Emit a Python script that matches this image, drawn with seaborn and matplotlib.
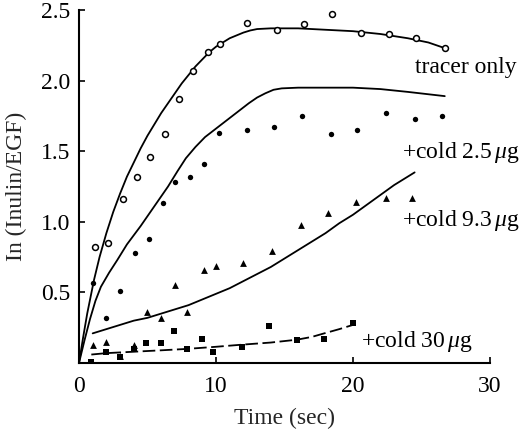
import numpy as np
import pandas as pd
import matplotlib
matplotlib.use("Agg")
import matplotlib.pyplot as plt
import seaborn as sns

# ---- data ----
tracer_x = [1.2, 2.1, 3.2, 4.2, 5.2, 6.25, 7.3, 8.3, 9.45, 10.3, 12.3, 14.45, 16.4, 18.5, 20.6, 22.6, 24.6, 26.7]
tracer_y = [0.82, 0.85, 1.16, 1.32, 1.46, 1.62, 1.87, 2.07, 2.20, 2.26, 2.41, 2.36, 2.40, 2.47, 2.34, 2.33, 2.30, 2.23]
tracer_fit_x = [0, 0.3, 0.6, 1.1, 1.5, 2.0, 2.5, 3.0, 3.5, 4.0, 4.5, 5.0, 5.5, 6.0, 6.5, 7.0, 7.5, 8.0,
                8.5, 9.0, 9.5, 10.0, 10.5, 11.0, 11.5, 12.0, 12.5, 13.0, 14.0, 15.0, 16.0, 18.0, 20.0,
                22.0, 24.0, 25.5, 26.7]
tracer_fit_y = [0, 0.18, 0.35, 0.59, 0.75, 0.92, 1.07, 1.20, 1.32, 1.42, 1.52, 1.61, 1.69, 1.77, 1.84,
                1.91, 1.98, 2.04, 2.10, 2.15, 2.20, 2.24, 2.27, 2.30, 2.32, 2.34, 2.355, 2.365, 2.37,
                2.37, 2.37, 2.36, 2.35, 2.33, 2.30, 2.27, 2.23]

c25_x = [1.0, 2.0, 3.0, 4.1, 5.1, 6.1, 7.0, 8.1, 9.1, 10.2, 12.3, 14.2, 16.3, 18.4, 20.3, 22.4, 24.5, 26.5]
c25_y = [0.57, 0.32, 0.51, 0.78, 0.88, 1.13, 1.28, 1.32, 1.41, 1.63, 1.65, 1.67, 1.75, 1.62, 1.65, 1.77, 1.73, 1.75]
c25_fit_x = [0, 0.4, 0.8, 1.2, 1.6, 2.2, 2.8, 3.5, 4.5, 5.5, 6.5, 7.2, 7.8, 8.5, 9.2, 10.0, 10.8,
             11.6, 12.4, 13.0, 13.6, 14.2, 14.8, 16.0, 18.0, 20.0, 22.0, 24.0, 26.7]
c25_fit_y = [0, 0.16, 0.31, 0.44, 0.54, 0.64, 0.73, 0.84, 0.97, 1.11, 1.25, 1.36, 1.45, 1.53, 1.60,
             1.66, 1.72, 1.78, 1.84, 1.88, 1.91, 1.935, 1.945, 1.95, 1.95, 1.95, 1.94, 1.92, 1.89]

c93_x = [1.0, 2.0, 3.0, 4.0, 5.0, 6.0, 7.0, 7.9, 9.1, 10.0, 12.0, 14.1, 16.2, 18.2, 20.2, 22.4, 24.3]
c93_y = [0.13, 0.15, 0.05, 0.13, 0.36, 0.32, 0.55, 0.36, 0.66, 0.69, 0.71, 0.79, 0.98, 1.06, 1.14, 1.17, 1.17]
c93_fit_x = [1.0, 2.0, 3.0, 4.0, 5.0, 6.0, 7.0, 8.0, 9.0, 10.0, 11.0, 12.0, 13.0, 14.0, 15.0, 16.0,
             17.0, 18.0, 19.0, 20.0, 21.0, 22.0, 23.0, 24.5]
c93_fit_y = [0.21, 0.24, 0.27, 0.30, 0.32, 0.35, 0.38, 0.41, 0.45, 0.49, 0.53, 0.58, 0.63, 0.68,
             0.74, 0.80, 0.86, 0.92, 0.99, 1.05, 1.12, 1.19, 1.26, 1.35]

c30_x = [0.9, 2.0, 3.0, 4.0, 4.9, 6.0, 6.9, 7.9, 9.0, 9.8, 11.9, 13.9, 15.9, 17.9, 20.0]
c30_y = [0.01, 0.08, 0.04, 0.10, 0.14, 0.14, 0.23, 0.10, 0.17, 0.08, 0.11, 0.26, 0.16, 0.17, 0.28]
c30_fit_x = [0.9, 2.0, 4.0, 6.0, 7.9, 10.0, 11.9, 14.0, 15.9, 17.0, 17.9, 19.0, 20.0]
c30_fit_y = [0.06, 0.07, 0.08, 0.09, 0.10, 0.115, 0.13, 0.145, 0.165, 0.185, 0.21, 0.24, 0.27]

labels = ["tracer only", "+cold 2.5$\\,\\mu$g", "+cold 9.3$\\,\\mu$g", "+cold 30$\\,\\mu$g"]
label_x = [24.5, 23.6, 23.6, 20.6]
label_y = [2.09, 1.49, 1.01, 0.15]

x_ticks = [0, 10, 20, 30]
y_ticks = [0.5, 1.0, 1.5, 2.0, 2.5]

# ---- plot ----
sns.set_style("ticks")
plt.rcParams["font.family"] = ["Liberation Serif", "DejaVu Serif"]
plt.rcParams["mathtext.fontset"] = "custom"
plt.rcParams["mathtext.it"] = "Liberation Serif:italic"
plt.rcParams["mathtext.rm"] = "Liberation Serif"

fig = plt.figure(figsize=(5.28, 4.29), dpi=100)
ax = fig.add_axes([0.1496, 0.1538, 0.7784, 0.8229])

lw = 1.3
fits = [(tracer_fit_x, tracer_fit_y, "-"), (c25_fit_x, c25_fit_y, "-"),
        (c93_fit_x, c93_fit_y, "-"), (c30_fit_x, c30_fit_y, (0, (7, 2.5)))]
for fx, fy, ls in fits:
    d = pd.DataFrame({"x": fx, "y": fy})
    sns.lineplot(data=d, x="x", y="y", ax=ax, color="black", lw=lw, linestyle=ls,
                 estimator=None, sort=False)

sns.scatterplot(x=tracer_x, y=tracer_y, ax=ax, marker="o", s=18, facecolor="white",
                edgecolor="black", linewidth=1.1, zorder=5)
sns.scatterplot(x=c25_x, y=c25_y, ax=ax, marker="o", s=15, color="black",
                edgecolor="black", linewidth=0, zorder=5)
sns.scatterplot(x=c93_x, y=c93_y, ax=ax, marker="^", s=24, color="black",
                edgecolor="black", linewidth=0, zorder=5)
sns.scatterplot(x=c30_x, y=c30_y, ax=ax, marker="s", s=16, color="black",
                edgecolor="black", linewidth=0, zorder=5)

for t, tx, ty in zip(labels, label_x, label_y):
    ax.text(tx, ty, t, fontsize=17, va="center", ha="left", color="black")

ax.set_xlim(0, 30)
ax.set_ylim(0, 2.5)
ax.set_xticks(x_ticks)
ax.set_yticks(y_ticks)
ax.set_xticklabels([str(v) for v in x_ticks], fontsize=17)
ax.set_yticklabels([f"{v:.1f}" for v in y_ticks], fontsize=17)
ax.tick_params(direction="in", length=4, width=1.2, colors="black", pad=6)
ax.tick_params(axis="x", pad=9)
ax.set_xlabel("Time (sec)", fontsize=17, labelpad=8)
ax.set_ylabel("In (Inulin/EGF)", fontsize=17, labelpad=10)
for side in ["top", "right"]:
    ax.spines[side].set_visible(False)
for side in ["left", "bottom"]:
    ax.spines[side].set_linewidth(1.5)
    ax.spines[side].set_color("black")
ax.patch.set_alpha(0)

fig.savefig("out.png", dpi=100)
